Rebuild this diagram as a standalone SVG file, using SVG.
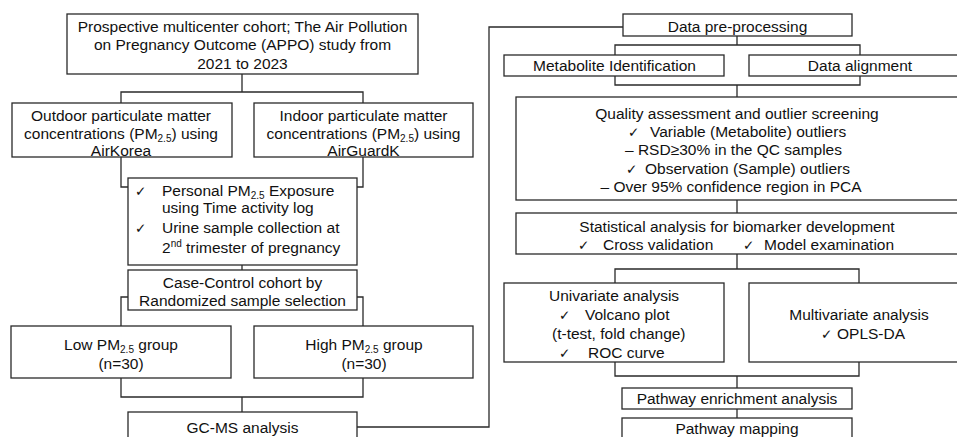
<svg xmlns="http://www.w3.org/2000/svg" width="957" height="437" viewBox="0 0 957 437">
<style>
.b{fill:#fff;stroke:#2a2a2a;stroke-width:1.3}
.c{fill:none;stroke:#2a2a2a;stroke-width:1.3}
text{font-family:"Liberation Sans",Arial,sans-serif;font-size:15.5px;fill:#111}
.m{text-anchor:middle}
.ck{font-family:"DejaVu Sans",sans-serif;font-size:13.5px}
.s{font-size:10px}
</style>
<rect width="957" height="437" fill="#fff"/>
<g id="connectors">
<path class="c" d="M242,74V92M121,103V92H363V103"/>
<path class="c" d="M121,157V187H128M363,157V187H357"/>
<path class="c" d="M242,265V270"/>
<path class="c" d="M128,297H121V326M357,297H363V326"/>
<path class="c" d="M121,378V397H363V378M242,397V412"/>
<path class="c" d="M357,427H489V27H623"/>
<path class="c" d="M737,36V45M615,55V45H860V55"/>
<path class="c" d="M615,76V85H860V76M737,85V97"/>
<path class="c" d="M737,200V213"/>
<path class="c" d="M737,254V269M615,283V269H859V283"/>
<path class="c" d="M615,362V376H859V362M737,376V388"/>
<path class="c" d="M737,409V418"/>
</g>
<g id="cohort">
<rect class="b" x="67" y="14" width="351" height="60"/>
<text class="m" x="242.5" y="31.5">Prospective multicenter cohort; The Air Pollution</text>
<text class="m" x="242.5" y="50">on Pregnancy Outcome (APPO) study from</text>
<text class="m" x="242.5" y="68.5">2021 to 2023</text>
</g>
<g id="outdoor">
<rect class="b" x="12" y="103" width="220" height="54"/>
<text class="m" x="121" y="120.5">Outdoor particulate matter</text>
<text class="m" x="121" y="138.5">concentrations (PM<tspan class="s" dy="3.5">2.5</tspan><tspan dy="-3.5">) using</tspan></text>
<text class="m" x="121" y="155.5">AirKorea</text>
</g>
<g id="indoor">
<rect class="b" x="254" y="103" width="219" height="54"/>
<text class="m" x="363.5" y="120.5">Indoor particulate matter</text>
<text class="m" x="363.5" y="138.5">concentrations (PM<tspan class="s" dy="3.5">2.5</tspan><tspan dy="-3.5">) using</tspan></text>
<text class="m" x="363.5" y="155.5">AirGuardK</text>
</g>
<g id="personal">
<rect class="b" x="128" y="178" width="229" height="87"/>
<text class="ck" x="135" y="195.5">✓</text>
<text x="162" y="195.5">Personal PM<tspan class="s" dy="3">2.5</tspan><tspan dy="-3"> Exposure</tspan></text>
<text x="162" y="213">using Time activity log</text>
<text class="ck" x="135" y="233">✓</text>
<text x="162" y="233">Urine sample collection at</text>
<text x="162" y="252.5">2<tspan class="s" dy="-6">nd</tspan><tspan dy="6"> trimester of pregnancy</tspan></text>
</g>
<g id="casecontrol">
<rect class="b" x="128" y="270" width="229" height="40"/>
<text class="m" x="242.5" y="287.5">Case-Control cohort by</text>
<text class="m" x="242.5" y="305.5">Randomized sample selection</text>
</g>
<g id="low">
<rect class="b" x="11" y="326" width="220" height="52"/>
<text class="m" x="121" y="349.5">Low PM<tspan class="s" dy="3.5">2.5</tspan><tspan dy="-3.5"> group</tspan></text>
<text class="m" x="121" y="368.5">(n=30)</text>
</g>
<g id="high">
<rect class="b" x="254" y="326" width="219" height="52"/>
<text class="m" x="364" y="349.5">High PM<tspan class="s" dy="3.5">2.5</tspan><tspan dy="-3.5"> group</tspan></text>
<text class="m" x="364" y="368.5">(n=30)</text>
</g>
<g id="gcms">
<rect class="b" x="128" y="412" width="229" height="40"/>
<text class="m" x="242.5" y="433">GC-MS analysis</text>
</g>
<g id="preprocessing">
<rect class="b" x="623" y="14" width="229" height="22"/>
<text class="m" x="737.5" y="31.5">Data pre-processing</text>
</g>
<g id="identification">
<rect class="b" x="504" y="55" width="220" height="21"/>
<text class="m" x="614.5" y="70.5">Metabolite Identification</text>
</g>
<g id="alignment">
<rect class="b" x="749" y="55" width="220" height="21"/>
<text class="m" x="860" y="70.5">Data alignment</text>
</g>
<g id="quality">
<rect class="b" x="516" y="97" width="443" height="103"/>
<text class="m" x="737" y="118.5">Quality assessment and outlier screening</text>
<text class="ck" x="628" y="137">✓</text>
<text x="650" y="137">Variable (Metabolite) outliers</text>
<text class="m" x="733.5" y="155">– RSD≥30% in the QC samples</text>
<text class="ck" x="626" y="173.5">✓</text>
<text x="645" y="173.5">Observation (Sample) outliers</text>
<text class="m" x="731" y="191.5">– Over 95% confidence region in PCA</text>
</g>
<g id="statistical">
<rect class="b" x="516" y="213" width="443" height="41"/>
<text class="m" x="737" y="231.5">Statistical analysis for biomarker development</text>
<text class="ck" x="578" y="249.5">✓</text>
<text x="603" y="249.5">Cross validation</text>
<text class="ck" x="743" y="249.5">✓</text>
<text x="764" y="249.5">Model examination</text>
</g>
<g id="univariate">
<rect class="b" x="504" y="283" width="220" height="79"/>
<text x="549" y="300.5">Univariate analysis</text>
<text class="ck" x="559" y="319.5">✓</text>
<text x="585" y="319.5">Volcano plot</text>
<text x="552" y="338.5">(t-test, fold change)</text>
<text class="ck" x="559" y="357.5">✓</text>
<text x="588" y="357.5">ROC curve</text>
</g>
<g id="multivariate">
<rect class="b" x="749" y="283" width="220" height="79"/>
<text class="m" x="859" y="319.5">Multivariate analysis</text>
<text class="ck" x="821" y="338.5">✓</text>
<text x="837" y="338.5">OPLS-DA</text>
</g>
<g id="enrichment">
<rect class="b" x="622" y="388" width="230" height="21"/>
<text class="m" x="737" y="404">Pathway enrichment analysis</text>
</g>
<g id="mapping">
<rect class="b" x="622" y="418" width="230" height="40"/>
<text class="m" x="737" y="434">Pathway mapping</text>
</g>
</svg>
